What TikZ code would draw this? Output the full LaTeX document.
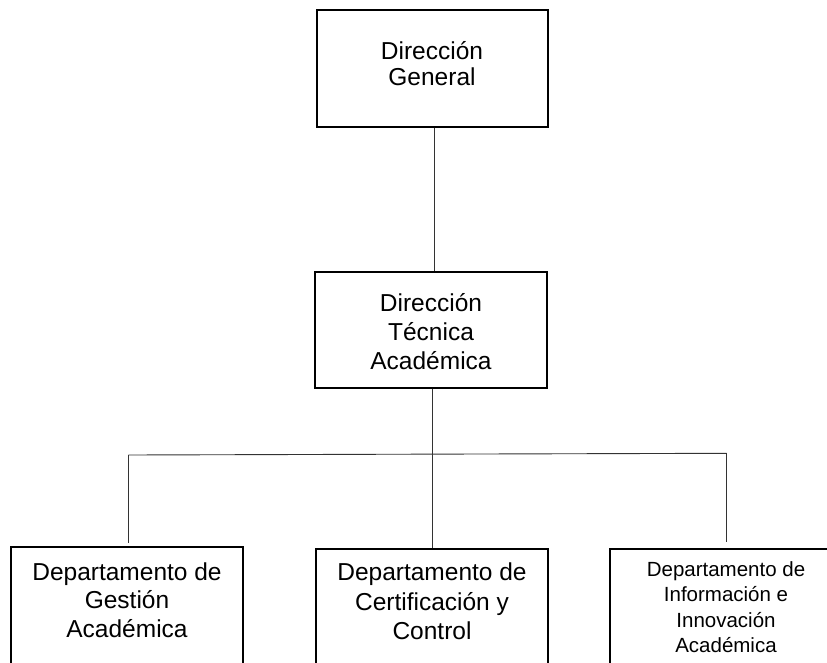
\documentclass[tikz,border=0pt]{standalone}
\usepackage{fontspec}
\setmainfont{Liberation Sans}
\begin{document}
\begin{tikzpicture}[x=1pt,y=-1pt,
  orgbox/.style={draw=black,line width=1.1pt,rectangle,minimum width=231pt,minimum height=117pt,inner sep=0pt,anchor=center},
  orgtxt/.style={inner sep=0pt,anchor=base},
  conn/.style={draw=black!80,line width=0.9pt}]
\useasboundingbox (0,0) rectangle (827,663);
\begin{scope}
\clip (0,0) rectangle (827,663);
% boxes
\node[orgbox] (dg) at (432.5,68.5) {};
\node[orgbox,minimum width=232pt,minimum height=116pt] (dta) at (431,330) {};
\node[orgbox,minimum width=232pt] (dga) at (127,605.5) {};
\node[orgbox,minimum width=232pt] (dcc) at (432,607.5) {};
\node[orgbox,minimum width=232pt] (dii) at (726,607.5) {};
% texts
\node[orgtxt] (tdg) at (432,59.3) {\fontsize{24.5}{25.8}\selectfont\begin{tabular}[t]{@{}c@{}}Dirección\\General\end{tabular}};
\node[orgtxt] (tdta) at (431,311.7) {\fontsize{24.5}{28.8}\selectfont\begin{tabular}[t]{@{}c@{}}Dirección\\Técnica\\Académica\end{tabular}};
\node[orgtxt] (tdga) at (127,580) {\fontsize{24.5}{28.7}\selectfont\begin{tabular}[t]{@{}c@{}}Departamento de\\Gestión\\Académica\end{tabular}};
\node[orgtxt] (tdcc) at (432,580.7) {\fontsize{24.5}{29.6}\selectfont\begin{tabular}[t]{@{}c@{}}Departamento de\\Certificación y\\Control\end{tabular}};
\node[orgtxt] (tdii) at (726,576) {\fontsize{20.5}{25.6}\selectfont\begin{tabular}[t]{@{}c@{}}Departamento de\\Información e\\Innovación\\Académica\end{tabular}};
% connectors
\coordinate (busl) at (128.3,455);
\coordinate (busm) at (432,454.2);
\coordinate (busr) at (726.7,453.3);
\coordinate (endl) at (128.3,543);
\coordinate (endr) at (726.7,542);
\draw[conn] ([xshift=1.5pt]dg.south) -- ([xshift=1.5pt]dg.south |- dta.north);
\draw[conn] ([xshift=1pt]dta.south) -- ([xshift=1pt]dta.south |- dcc.north);
\draw[conn] (busl) -- (busr);
\draw[conn] (busl) -- (endl);
\draw[conn] (busr) -- (endr);
\end{scope}
\end{tikzpicture}
\end{document}
